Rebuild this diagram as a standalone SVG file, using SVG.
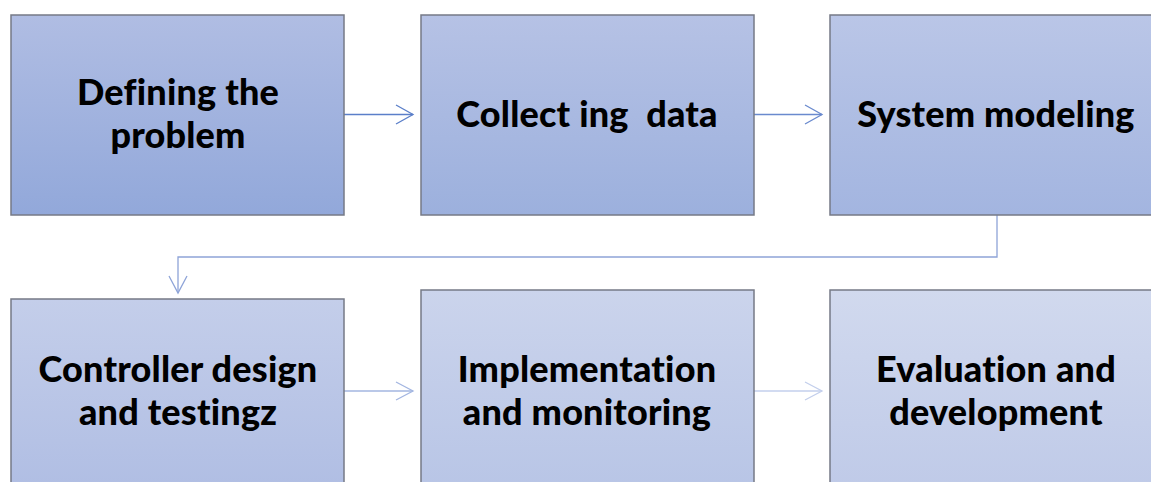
<svg xmlns="http://www.w3.org/2000/svg" width="1151" height="482" viewBox="0 0 1151 482">
<defs>
<linearGradient id="g1" x1="0" y1="0" x2="0" y2="1"><stop offset="0" stop-color="#b0bde3"/><stop offset="1" stop-color="#92a8da"/></linearGradient>
<linearGradient id="g2" x1="0" y1="0" x2="0" y2="1"><stop offset="0" stop-color="#b6c2e5"/><stop offset="1" stop-color="#9cb0dd"/></linearGradient>
<linearGradient id="g3" x1="0" y1="0" x2="0" y2="1"><stop offset="0" stop-color="#bac6e7"/><stop offset="1" stop-color="#a3b5e0"/></linearGradient>
<linearGradient id="g4" x1="0" y1="0" x2="0" y2="1"><stop offset="0" stop-color="#c4ceea"/><stop offset="1" stop-color="#afbde3"/></linearGradient>
<linearGradient id="g5" x1="0" y1="0" x2="0" y2="1"><stop offset="0" stop-color="#cbd4ec"/><stop offset="1" stop-color="#b8c5e6"/></linearGradient>
<linearGradient id="g6" x1="0" y1="0" x2="0" y2="1"><stop offset="0" stop-color="#d1d9ee"/><stop offset="1" stop-color="#bfcae8"/></linearGradient>
</defs>
<style>
.box{stroke:#767a86;stroke-width:1.5}
.t{font-family:"Lato","Liberation Sans",sans-serif;font-weight:900;font-size:36px;fill:#000;text-anchor:middle;white-space:pre;font-variant-ligatures:none;letter-spacing:0.2px}
.c{fill:none;stroke-width:1.3}
</style>
<rect width="1151" height="482" fill="#fff"/>
<g id="connectors">
<g class="c" stroke="#5b7fc9"><path d="M344 114.5H413"/><path d="M396 105L413 114.5L396 124"/></g>
<g class="c" stroke="#6a8ace"><path d="M754 114.5H822"/><path d="M805 105L822 114.5L805 124"/></g>
<g class="c" stroke="#8ea4d8"><path d="M997 215V257H178V293"/><path d="M169 276L178 293L187 276"/></g>
<g class="c" stroke="#a3b6e1"><path d="M344 391H413"/><path d="M396 382L413 391L396 400"/></g>
<g class="c" stroke="#c3cfec"><path d="M754 391H822"/><path d="M805 382L822 391L805 400"/></g>
</g>
<g id="n1"><rect class="box" x="11" y="15" width="333" height="200" fill="url(#g1)"/><text class="t" x="178" y="105">Defining the</text><text class="t" x="178" y="148">problem</text></g>
<g id="n2"><rect class="box" x="421" y="15" width="333" height="200" fill="url(#g2)"/><text class="t" x="587" y="127">Collect ing  data</text></g>
<g id="n3"><rect class="box" x="830" y="15" width="333" height="200" fill="url(#g3)"/><text class="t" x="996" y="127">System modeling</text></g>
<g id="n4"><rect class="box" x="11" y="299" width="333" height="200" fill="url(#g4)"/><text class="t" x="178" y="382">Controller design</text><text class="t" x="178" y="425">and testingz</text></g>
<g id="n5"><rect class="box" x="421" y="290" width="333" height="200" fill="url(#g5)"/><text class="t" x="587" y="382">Implementation</text><text class="t" x="587" y="425">and monitoring</text></g>
<g id="n6"><rect class="box" x="830" y="290" width="333" height="200" fill="url(#g6)"/><text class="t" x="996" y="382">Evaluation and</text><text class="t" x="996" y="425">development</text></g>
</svg>
